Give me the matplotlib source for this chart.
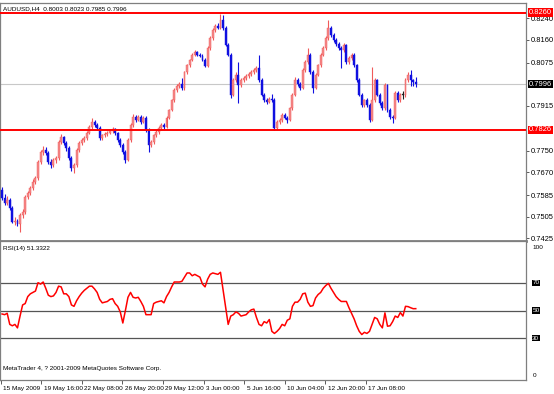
import matplotlib
matplotlib.use("Agg")
import matplotlib.pyplot as plt
import matplotlib.transforms as mtrans

# AUDUSD H4 candles
opens = [0.7604, 0.7574, 0.7556, 0.7567, 0.7537, 0.7486, 0.7490, 0.7478, 0.7512, 0.7523,
         0.7578, 0.7593, 0.7611, 0.7634, 0.7648, 0.7708, 0.7745, 0.7752, 0.7741, 0.7708,
         0.7697, 0.7715, 0.7722, 0.7782, 0.7800, 0.7778, 0.7759, 0.7722, 0.7685, 0.7697,
         0.7752, 0.7778, 0.7789, 0.7796, 0.7815, 0.7837, 0.7856, 0.7844, 0.7833, 0.7796,
         0.7807, 0.7811, 0.7815, 0.7822, 0.7830, 0.7815, 0.7789, 0.7770, 0.7745, 0.7715,
         0.7789, 0.7844, 0.7874, 0.7863, 0.7874, 0.7856, 0.7870, 0.7826, 0.7770, 0.7782,
         0.7807, 0.7819, 0.7833, 0.7844, 0.7837, 0.7870, 0.7900, 0.7937, 0.7974, 0.7989,
         0.7996, 0.7981, 0.8041, 0.8067, 0.8085, 0.8104, 0.8115, 0.8104, 0.8100, 0.8085,
         0.8063, 0.8129, 0.8166, 0.8196, 0.8211, 0.8203, 0.8233, 0.8203, 0.8141, 0.8104,
         0.7956, 0.8011, 0.8030, 0.7993, 0.8011, 0.8018, 0.8026, 0.8033, 0.8041, 0.8048,
         0.8055, 0.8011, 0.7956, 0.7937, 0.7930, 0.7941, 0.7937, 0.7833, 0.7856, 0.7863,
         0.7882, 0.7870, 0.7863, 0.7907, 0.7956, 0.8011, 0.7996, 0.7981, 0.8048, 0.8078,
         0.8104, 0.8041, 0.7981, 0.8030, 0.8067, 0.8104, 0.8129, 0.8166, 0.8203, 0.8178,
         0.8159, 0.8144, 0.8129, 0.8122, 0.8141, 0.8078, 0.8092, 0.8104, 0.8067, 0.8011,
         0.7956, 0.7919, 0.7937, 0.7919, 0.7863, 0.7937, 0.8011, 0.7956, 0.7926, 0.7907,
         0.7993, 0.7900, 0.7874, 0.7870, 0.7963, 0.7937, 0.7956, 0.7956, 0.8011, 0.8030,
         0.8010, 0.8003]
highs = [0.7615, 0.7590, 0.7580, 0.7575, 0.7545, 0.7502, 0.7498, 0.7520, 0.7535, 0.7585,
         0.7600, 0.7620, 0.7645, 0.7655, 0.7715, 0.7752, 0.7765, 0.7762, 0.7748, 0.7718,
         0.7722, 0.7730, 0.7790, 0.7810, 0.7805, 0.7785, 0.7765, 0.7730, 0.7705, 0.7760,
         0.7785, 0.7795, 0.7805, 0.7822, 0.7845, 0.7870, 0.7862, 0.7850, 0.7840, 0.7812,
         0.7818, 0.7822, 0.7828, 0.7836, 0.7835, 0.7820, 0.7795, 0.7778, 0.7752, 0.7795,
         0.7850, 0.7885, 0.7882, 0.7880, 0.7880, 0.7878, 0.7876, 0.7832, 0.7790, 0.7812,
         0.7825, 0.7840, 0.7850, 0.7850, 0.7876, 0.7905, 0.7942, 0.7980, 0.7995, 0.8002,
         0.8020, 0.8046, 0.8072, 0.8090, 0.8110, 0.8122, 0.8120, 0.8112, 0.8106, 0.8092,
         0.8135, 0.8172, 0.8202, 0.8218, 0.8222, 0.8255, 0.8250, 0.8210, 0.8148, 0.8110,
         0.8020, 0.8040, 0.8078, 0.8018, 0.8025, 0.8032, 0.8040, 0.8048, 0.8055, 0.8062,
         0.8104, 0.8018, 0.7962, 0.7945, 0.7948, 0.7958, 0.7944, 0.7862, 0.7870, 0.7888,
         0.7890, 0.7878, 0.7912, 0.7962, 0.8022, 0.8020, 0.8004, 0.8054, 0.8085, 0.8129,
         0.8110, 0.8048, 0.8036, 0.8072, 0.8110, 0.8135, 0.8172, 0.8233, 0.8210, 0.8185,
         0.8165, 0.8150, 0.8135, 0.8148, 0.8146, 0.8098, 0.8110, 0.8110, 0.8072, 0.8018,
         0.7962, 0.7942, 0.7944, 0.7925, 0.8059, 0.8018, 0.8016, 0.7962, 0.7932, 0.8000,
         0.7998, 0.7906, 0.7880, 0.7970, 0.7970, 0.7962, 0.7972, 0.8018, 0.8040, 0.8048,
         0.8015, 0.8023]
lows = [0.7565, 0.7548, 0.7550, 0.7530, 0.7480, 0.7475, 0.7470, 0.7449, 0.7500, 0.7515,
        0.7570, 0.7585, 0.7605, 0.7625, 0.7640, 0.7700, 0.7735, 0.7735, 0.7700, 0.7685,
        0.7690, 0.7705, 0.7715, 0.7775, 0.7770, 0.7750, 0.7715, 0.7675, 0.7667, 0.7690,
        0.7745, 0.7770, 0.7780, 0.7790, 0.7810, 0.7830, 0.7838, 0.7825, 0.7790, 0.7788,
        0.7800, 0.7805, 0.7810, 0.7815, 0.7808, 0.7782, 0.7762, 0.7738, 0.7705, 0.7710,
        0.7782, 0.7838, 0.7855, 0.7858, 0.7848, 0.7850, 0.7820, 0.7745, 0.7762, 0.7775,
        0.7800, 0.7812, 0.7826, 0.7830, 0.7832, 0.7865, 0.7895, 0.7930, 0.7968, 0.7982,
        0.7975, 0.7975, 0.8035, 0.8060, 0.8080, 0.8098, 0.8098, 0.8095, 0.8080, 0.8058,
        0.8058, 0.8122, 0.8160, 0.8190, 0.8198, 0.8198, 0.8195, 0.8135, 0.8098, 0.7944,
        0.7950, 0.8002, 0.7926, 0.7985, 0.8005, 0.8010, 0.8020, 0.8026, 0.8035, 0.8040,
        0.8005, 0.7950, 0.7930, 0.7922, 0.7925, 0.7930, 0.7826, 0.7828, 0.7848, 0.7856,
        0.7865, 0.7850, 0.7858, 0.7900, 0.7950, 0.7990, 0.7974, 0.7976, 0.8042, 0.8070,
        0.8035, 0.7963, 0.7976, 0.8025, 0.8060, 0.8098, 0.8122, 0.8160, 0.8170, 0.8152,
        0.8138, 0.8122, 0.8055, 0.8115, 0.8072, 0.8070, 0.8085, 0.8060, 0.8005, 0.7950,
        0.7912, 0.7912, 0.7912, 0.7856, 0.7858, 0.7930, 0.7950, 0.7920, 0.7900, 0.7900,
        0.7894, 0.7866, 0.7852, 0.7865, 0.7930, 0.7930, 0.7940, 0.7948, 0.8005, 0.7988,
        0.7990, 0.7985]
closes = [0.7574, 0.7556, 0.7567, 0.7537, 0.7486, 0.7490, 0.7478, 0.7512, 0.7523, 0.7578,
          0.7593, 0.7611, 0.7634, 0.7648, 0.7708, 0.7745, 0.7752, 0.7741, 0.7708, 0.7697,
          0.7715, 0.7722, 0.7782, 0.7800, 0.7778, 0.7759, 0.7722, 0.7685, 0.7697, 0.7752,
          0.7778, 0.7789, 0.7796, 0.7815, 0.7837, 0.7856, 0.7844, 0.7833, 0.7796, 0.7807,
          0.7811, 0.7815, 0.7822, 0.7830, 0.7815, 0.7789, 0.7770, 0.7745, 0.7715, 0.7789,
          0.7844, 0.7874, 0.7863, 0.7874, 0.7856, 0.7870, 0.7826, 0.7770, 0.7782, 0.7807,
          0.7819, 0.7833, 0.7844, 0.7837, 0.7870, 0.7900, 0.7937, 0.7974, 0.7989, 0.7996,
          0.7981, 0.8041, 0.8067, 0.8085, 0.8104, 0.8115, 0.8104, 0.8100, 0.8085, 0.8063,
          0.8129, 0.8166, 0.8196, 0.8211, 0.8203, 0.8233, 0.8203, 0.8141, 0.8104, 0.7956,
          0.8011, 0.8030, 0.7993, 0.8011, 0.8018, 0.8026, 0.8033, 0.8041, 0.8048, 0.8055,
          0.8011, 0.7956, 0.7937, 0.7930, 0.7941, 0.7937, 0.7833, 0.7856, 0.7863, 0.7882,
          0.7870, 0.7863, 0.7907, 0.7956, 0.8011, 0.7996, 0.7981, 0.8048, 0.8078, 0.8104,
          0.8041, 0.7981, 0.8030, 0.8067, 0.8104, 0.8129, 0.8166, 0.8203, 0.8178, 0.8159,
          0.8144, 0.8129, 0.8122, 0.8141, 0.8078, 0.8092, 0.8104, 0.8067, 0.8011, 0.7956,
          0.7919, 0.7937, 0.7919, 0.7863, 0.7937, 0.8011, 0.7956, 0.7926, 0.7907, 0.7993,
          0.7900, 0.7874, 0.7870, 0.7963, 0.7937, 0.7956, 0.7956, 0.8011, 0.8030, 0.8010,
          0.8003, 0.7996]

rsi = [47.5, 47, 48, 40, 39, 40, 37.5, 46, 54, 55,
       60, 62, 63, 64, 70, 69, 70.5, 66, 61, 60,
       60.5, 63, 67.5, 67, 62, 62, 60, 54, 53, 57,
       60, 62.5, 64.5, 66, 67.5, 67.5, 65.5, 63, 58, 55.5,
       56, 56.5, 58, 58.5, 55, 53, 49, 41, 50, 59.5,
       63, 59.5, 59, 59.5, 56.5, 53, 47, 47, 47, 55,
       56, 56.5, 57, 55.5, 60, 63, 67, 70.5, 70.5, 70.5,
       71, 74, 77, 77, 75, 76, 75, 74, 69, 67,
       72.5, 76, 77, 76.5, 76, 77.5, 65, 52, 40, 46,
       47, 49, 48, 46, 46.5, 47, 49, 50.5, 51, 45,
       40, 39, 42, 41, 43.5, 35, 33.5, 35, 37, 40,
       39, 43, 44, 53, 56, 56, 58, 62, 62.5, 56,
       53, 53.5, 59, 61.5, 63, 66, 68, 69.5, 66, 63,
       60, 58, 56.5, 56.5, 56.5, 52, 48, 44, 39, 35,
       32.7, 34.3, 33.5, 35, 40, 45, 44, 40, 37.5, 48.3,
       38.7, 39, 42, 46, 45, 48.5, 46, 53, 52.8, 52,
       51.3, 51.33]

date_pos = [-0.6, 15.2, 31.0, 46.8, 62.6, 78.4, 94.2, 110.0, 125.8, 141.6]
date_labels = ["15 May 2009", "19 May 16:00", "22 May 08:00", "26 May 20:00", "29 May 12:00",
               "3 Jun 00:00", "5 Jun 16:00", "10 Jun 04:00", "12 Jun 20:00", "17 Jun 08:00"]
price_ticks = [0.8240, 0.8160, 0.8075, 0.7915, 0.7750, 0.7670, 0.7585, 0.7505, 0.7425]
levels = [0.8260, 0.7826]
bid = 0.7996
rsi_levels = [70, 50, 30]

plt.rcParams['font.family'] = ['Liberation Sans', 'DejaVu Sans']
fs = 5.4      # right-hand price scale
fs_txt = 4.6  # captions and time scale
border = '#7f7f7f'

fig = plt.figure(figsize=(5.54, 3.94), dpi=100)
ax = fig.add_axes([0.0, 1 - 241 / 394, 526 / 554, 238 / 394])
ax2 = fig.add_axes([0.0, 1 - 380 / 394, 526 / 554, 139 / 394])

x = list(range(len(closes)))

# candles
for i in x:
    o, h, l, c = opens[i], highs[i], lows[i], closes[i]
    if c > o:
        wick, body = '#f05a5a', '#f48888'
    elif c < o:
        wick, body = '#1010e0', '#1010e0'
    else:
        wick, body = '#202020', '#202020'
    ax.vlines(i, l, h, color=wick, lw=0.8, zorder=3)
    ax.bar(i, max(abs(c - o), 0.0003), bottom=min(o, c), width=0.75,
           color=body, edgecolor=wick, lw=0.3, zorder=4)

for lv in levels:
    ax.axhline(lv, color='#ff0000', lw=1.4, zorder=5)
ax.axhline(bid, color='#c8c8c8', lw=0.8, zorder=1)

ax.set_xlim(-0.8, 203.9)
ax.set_ylim(0.7415, 0.8296)
ax.set_xticks([])
ax.yaxis.tick_right()
ax.set_yticks(price_ticks)
ax.set_yticklabels(["%.4f" % v for v in price_ticks])
ax.tick_params(axis='y', length=2.5, width=0.6, pad=1, labelsize=fs, color='#404040')

# highlighted price labels
ytr = mtrans.blended_transform_factory(ax.transAxes, ax.transData)
for lv, bg in [(levels[0], '#ff0000'), (bid, '#000000'), (levels[1], '#ff0000')]:
    ax.text(1.006, lv, "%.4f" % lv, transform=ytr, fontsize=fs, color='white',
            va='center', ha='left', clip_on=False, zorder=10,
            bbox=dict(boxstyle='square,pad=0.12', fc=bg, ec='none'))

ax.text(0.006, 0.975, "AUDUSD,H4  %.4f %.4f %.4f %.4f" % (opens[-1], highs[-1], lows[-1], closes[-1]),
        transform=ax.transAxes, fontsize=fs_txt, va='center', ha='left')

for sp in ax.spines.values():
    sp.set_color(border)
    sp.set_linewidth(0.9)
ax.spines['bottom'].set_linewidth(2)

# RSI panel
ax2.plot(x, rsi, color='#ff0000', lw=1.1, zorder=3)
for lv in rsi_levels:
    ax2.axhline(lv, color='#555555', lw=0.9, zorder=1)
ax2.set_xlim(-0.8, 203.9)
ax2.set_ylim(0, 100)
ax2.yaxis.tick_right()
ax2.set_yticks([])
ytr2 = mtrans.blended_transform_factory(ax2.transAxes, ax2.transData)
ax2.text(1.012, 95.5, "100", transform=ytr2, fontsize=fs_txt, va='center', ha='left', clip_on=False)
ax2.text(1.012, 3, "0", transform=ytr2, fontsize=fs_txt, va='center', ha='left', clip_on=False)
for lv in rsi_levels:
    ax2.text(1.012, lv, str(lv), transform=ytr2, fontsize=fs_txt, color='white',
             va='center', ha='left', clip_on=False,
             bbox=dict(boxstyle='square,pad=0.1', fc='#000000', ec='none'))

ax2.text(0.006, 0.945, "RSI(14) %.4f" % 51.3322, transform=ax2.transAxes, fontsize=fs_txt,
         va='center', ha='left')
ax2.text(0.006, 0.08, "MetaTrader 4, ? 2001-2009 MetaQuotes Software Corp.",
         transform=ax2.transAxes, fontsize=fs_txt, va='center', ha='left')

ax2.set_xticks(date_pos)
ax2.set_xticklabels(date_labels, ha='left')
ax2.tick_params(axis='x', length=3, width=0.6, pad=1.5, labelsize=fs_txt, color='#404040')
off = mtrans.ScaledTranslation(2.5 / 100, 0, fig.dpi_scale_trans)
for lab in ax2.get_xticklabels():
    lab.set_transform(lab.get_transform() + off)

for sp in ax2.spines.values():
    sp.set_color(border)
    sp.set_linewidth(0.9)

fig.savefig("out.png", dpi=100, facecolor='white')
